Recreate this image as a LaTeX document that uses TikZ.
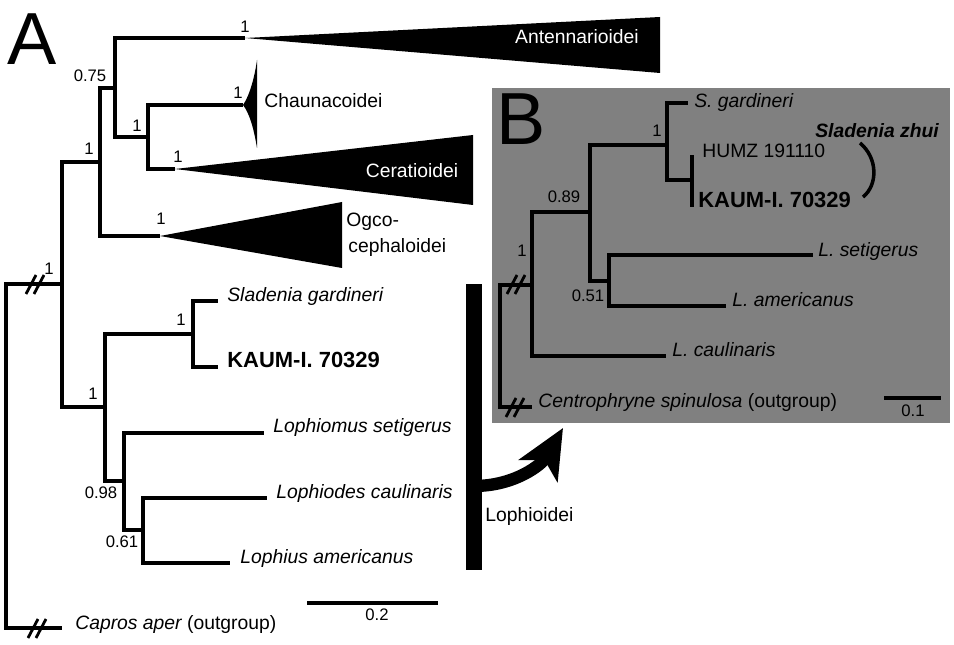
\documentclass[tikz,border=0pt]{standalone}
\usepackage{fontspec}
\setmainfont{Liberation Sans}
\usepackage{tikz}
\usetikzlibrary{arrows.meta}

\begin{document}
\begin{tikzpicture}[x=0.02cm, y=-0.02cm]
\tikzstyle{branch} = [line width=1.9pt]
\tikzstyle{breakmark} = [line width=1.6pt]
\tikzstyle{tip} = [anchor=base west, inner sep=0pt, font=\fontsize{11}{13}\selectfont\itshape]
\tikzstyle{clade} = [anchor=base west, inner sep=0pt, font=\fontsize{11}{13}\selectfont]
\tikzstyle{specimen} = [anchor=base west, inner sep=0pt, font=\fontsize{12.5}{14}\selectfont\bfseries]
\tikzstyle{support} = [anchor=base, inner sep=0pt, font=\fontsize{9.5}{11}\selectfont]
\tikzstyle{panel} = [anchor=base, inner sep=0pt, font=\fontsize{42}{44}\selectfont]
\tikzstyle{bigarrow} = [line width=7pt, -{Stealth[length=28pt, width=25pt, inset=7pt]}]

\useasboundingbox (0,0) rectangle (954,645);

% panel B background
\fill[gray] (492,88) rectangle (950,423);

% ---- tree A
\coordinate (rootA) at (6,455);
\coordinate (ingroup) at (62,284);
\coordinate (capros) at (62,628);
\coordinate (nA1) at (100,162);
\coordinate (nA2) at (115,88);
\coordinate (nA3) at (148,137);
\coordinate (antApex) at (245,38);
\coordinate (chauApex) at (243,105);
\coordinate (ceraApex) at (175,169);
\coordinate (ogcoApex) at (160,236);
\coordinate (loph) at (105,407);
\coordinate (slad) at (193,334);
\coordinate (sgard) at (218,301);
\coordinate (kaumA) at (218,367);
\coordinate (lophB) at (124,481);
\coordinate (lset) at (264,433);
\coordinate (lophC) at (143,530);
\coordinate (lcau) at (267,498);
\coordinate (lam) at (230,563);

\draw[branch] (rootA) |- (ingroup);
\draw[branch] (rootA) |- (capros);
\draw[branch] (ingroup) |- (nA1);
\draw[branch] (ingroup) |- (loph);
\draw[branch] (nA1) |- (nA2);
\draw[branch] (nA1) |- (ogcoApex);
\draw[branch] (nA2) |- (antApex);
\draw[branch] (nA2) |- (nA3);
\draw[branch] (nA3) |- (chauApex);
\draw[branch] (nA3) |- (ceraApex);
\draw[branch] (loph) |- (slad);
\draw[branch] (loph) |- (lophB);
\draw[branch] (slad) |- (sgard);
\draw[branch] (slad) |- (kaumA);
\draw[branch] (lophB) |- (lset);
\draw[branch] (lophB) |- (lophC);
\draw[branch] (lophC) |- (lcau);
\draw[branch] (lophC) |- (lam);

% collapsed clades
\fill (antApex) -- (660,17) -- (660,73) -- cycle;
\fill (chauApex) .. controls (250,95) and (255,75) .. (257,60) -- (257,148)
  .. controls (254,130) and (250,114) .. (chauApex) -- cycle;
\fill (ceraApex) -- (473,135) -- (473,205) -- cycle;
\fill (ogcoApex) -- (342,202) -- (342,268) -- cycle;

\node[panel] (labelA) at (32,65) {A};
\node[clade, anchor=base, text=white] (antName) at (577,44) {Antennarioidei};
\node[clade] (chauName) at (264,108) {Chaunacoidei};
\node[clade, anchor=base, text=white] (ceraName) at (412,178) {Ceratioidei};
\node[clade] (ogcoName) at (346,227) {Ogco-};
\node[clade] (ogcoName2) at (348,253) {cephaloidei};

\node[tip] (sgardName) at (227,302) {Sladenia gardineri};
\node[specimen] (kaumAName) at (227,368) {KAUM-I. 70329};
\node[tip] (lsetName) at (273,433) {Lophiomus setigerus};
\node[tip] (lcauName) at (276,498) {Lophiodes caulinaris};
\node[tip] (lamName) at (240,563) {Lophius americanus};
\node[tip] (caprosName) at (75,629) {Capros aper {\upshape(outgroup)}};

\node[support] (sA1) at (49,275) {1};
\node[support] (sA2) at (89,155) {1};
\node[support] (sA3) at (90,82) {0.75};
\node[support] (sA4) at (245,33) {1};
\node[support] (sA5) at (137,132) {1};
\node[support] (sA6) at (238,99) {1};
\node[support] (sA7) at (178,163) {1};
\node[support] (sA8) at (161,225) {1};
\node[support] (sA9) at (93,399) {1};
\node[support] (sA10) at (181,326) {1};
\node[support] (sA11) at (101,498) {0.98};
\node[support] (sA12) at (122,547) {0.61};

% scale A
\coordinate (scaleAL) at (307,603);
\coordinate (scaleAR) at (438,603);
\draw[branch] (scaleAL) -- (scaleAR);
\node[support] (scaleAtext) at (377,620) {0.2};

% Lophioidei bar and arrow to B
\node[fill=black, inner sep=0pt, minimum width=0.32cm, minimum height=5.72cm] (lophbar) at (474,427) {};
\node[clade] (lophName) at (485,521) {Lophioidei};
\coordinate (arrowTip) at (563,428);
\draw[bigarrow] (lophbar.center |- 0,486) to[out=0, in=240] (arrowTip);

% ---- tree B
\coordinate (rootB) at (500,346);
\coordinate (ingroupB) at (532,285);
\coordinate (centro) at (532,407);
\coordinate (nB1) at (590,212);
\coordinate (lcauB) at (666,356);
\coordinate (nB2) at (667,145);
\coordinate (nB3) at (609,281);
\coordinate (sgardB) at (688,103);
\coordinate (nB4) at (692,180);
\coordinate (humz) at (692,155);
\coordinate (kaumB) at (692,207);
\coordinate (lsetB) at (813,255);
\coordinate (lamB) at (726,306);

\draw[branch] (rootB) |- (ingroupB);
\draw[branch] (rootB) |- (centro);
\draw[branch] (ingroupB) |- (nB1);
\draw[branch] (ingroupB) |- (lcauB);
\draw[branch] (nB1) |- (nB2);
\draw[branch] (nB1) |- (nB3);
\draw[branch] (nB2) |- (sgardB);
\draw[branch] (nB2) |- (nB4);
\draw[branch] (nB4) |- (humz);
\draw[branch] (nB4) |- (kaumB);
\draw[branch] (nB3) |- (lsetB);
\draw[branch] (nB3) |- (lamB);

\node[panel] (labelB) at (521,145) {B};
\node[tip] (sgardBName) at (694,108) {S. gardineri};
\node[clade] (humzName) at (702,158) {HUMZ 191110};
\node[specimen] (kaumBName) at (698,208) {KAUM-I. 70329};
\node[tip, font=\fontsize{11}{13}\selectfont\bfseries\itshape] (zhuiName) at (815,138) {Sladenia zhui};
\node[tip] (lsetBName) at (818,257) {L. setigerus};
\node[tip] (lamBName) at (732,307) {L. americanus};
\node[tip] (lcauBName) at (672,357) {L. caulinaris};
\node[tip] (centroName) at (538,407) {Centrophryne spinulosa {\upshape(outgroup)}};

\node[support] (sB1) at (657,137) {1};
\node[support] (sB2) at (564,203) {0.89};
\node[support] (sB3) at (522,257) {1};
\node[support] (sB4) at (588,302) {0.51};

\draw[line width=2pt] (860,143) .. controls (878,158) and (878,185) .. (863,197);

% scale B
\coordinate (scaleBL) at (884,398);
\coordinate (scaleBR) at (941,398);
\draw[branch] (scaleBL) -- (scaleBR);
\node[support] (scaleBtext) at (913,417) {0.1};

% long branch breaks
\foreach \cx/\cy in {35/284, 37/628, 516/284, 515/407} {
  \draw[breakmark] (\cx-9,\cy+10) -- (\cx+1,\cy-9);
  \draw[breakmark] (\cx-1,\cy+10) -- (\cx+9,\cy-9);
}
\end{tikzpicture}
\end{document}
